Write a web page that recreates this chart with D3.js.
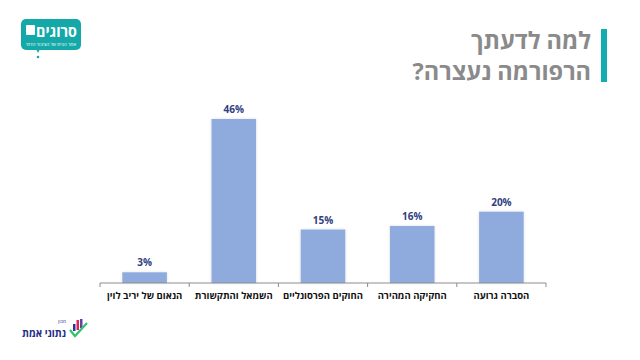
<!DOCTYPE html>
<html><head><meta charset="utf-8">
<script src="https://cdn.jsdelivr.net/npm/d3@7"></script>
<style>body{margin:0;background:#fff}svg{display:block}</style>
</head><body>
<svg id="c" width="640" height="360"></svg>
<script>
const categories = ["הנאום של יריב לוין","השמאל והתקשורת","החוקים הפרסונליים","החקיקה המהירה","הסברה גרועה"];
const values = [3,46,15,16,20];
const titleLines = ["למה לדעתך","הרפורמה נעצרה?"];

const svg = d3.select("#c");
const font = "'Open Sans','Liberation Sans',Arial,sans-serif";
const x = d3.scaleBand().domain(categories).range([100,546]).paddingInner(0.5).paddingOuter(0.25);
const y = d3.scaleLinear().domain([0,46]).range([283,119]);

const defs = svg.append("defs");
const f = defs.append("filter").attr("id","sh").attr("x","-20%").attr("y","-20%").attr("width","140%").attr("height","140%");
f.append("feDropShadow").attr("dx",0).attr("dy",0).attr("stdDeviation",1.5).attr("flood-color","#000").attr("flood-opacity",0.12);

svg.append("g").selectAll("rect").data(values).join("rect")
  .attr("x",(d,i)=>x(categories[i]))
  .attr("y",d=>y(d))
  .attr("width",x.bandwidth())
  .attr("height",d=>y(0)-y(d))
  .attr("fill","#8faadc")
  .attr("filter","url(#sh)");

svg.append("g").selectAll("text").data(values).join("text")
  .attr("x",(d,i)=>x(categories[i])+x.bandwidth()/2)
  .attr("y",d=>y(d)-6)
  .attr("text-anchor","middle")
  .attr("font-family",font).attr("font-weight","bold").attr("font-size",10)
  .attr("fill","#2f4080")
  .text(d=>d+"%");

// axis
const ax = svg.append("g").attr("transform","translate(0,283)");
ax.append("line").attr("x1",100).attr("x2",546).attr("stroke","#8c8c8c").attr("stroke-width",1);
const bounds = categories.map((c,i)=>x(c)-x.bandwidth()*0.5).concat([546]);
ax.selectAll("line.t").data(bounds).join("line").attr("class","t")
  .attr("x1",d=>d).attr("x2",d=>d).attr("y1",0).attr("y2",4).attr("stroke","#8c8c8c");
ax.selectAll("text").data(categories).join("text")
  .attr("x",c=>x(c)+x.bandwidth()/2).attr("y",16)
  .attr("text-anchor","middle").attr("direction","rtl")
  .attr("font-family",font).attr("font-weight","bold").attr("font-size",9.5)
  .attr("fill","#111").text(c=>c);

// title
svg.append("rect").attr("x",601).attr("y",29).attr("width",6).attr("height",53).attr("fill","#12adb0");
svg.selectAll("text.title").data(titleLines).join("text").attr("class","title")
  .attr("x",591).attr("y",(d,i)=>49+i*31)
  .attr("text-anchor","start").attr("direction","rtl")
  .attr("font-family",font).attr("font-weight","bold").attr("font-size",23.5)
  .attr("fill","#8a8a8a").text(d=>d);

// srugim logo
const lg = svg.append("g");
lg.append("rect").attr("x",21).attr("y",19).attr("width",60).attr("height",31).attr("rx",5).attr("fill","#14a9a8");
lg.append("path").attr("d","M36,49 L40,49 L38,53 Z").attr("fill","#14a9a8");
lg.append("circle").attr("cx",38).attr("cy",57).attr("r",1.3).attr("fill","#14a9a8");
lg.append("text").attr("x",77).attr("y",37).attr("direction","rtl").attr("text-anchor","start")
  .attr("font-family",font).attr("font-weight","bold").attr("font-size",15)
  .attr("textLength",41).attr("lengthAdjust","spacingAndGlyphs").attr("fill","#fff").text("סרוגים");
lg.append("rect").attr("x",26).attr("y",25).attr("width",9).attr("height",10).attr("rx",1).attr("fill","#fff");
lg.append("text").attr("x",51).attr("y",45.5).attr("text-anchor","middle").attr("direction","rtl")
  .attr("font-family",font).attr("font-size",4.5).attr("textLength",50).attr("lengthAdjust","spacingAndGlyphs")
  .attr("fill","#fff").text("אתר הבית של הציבור הדתי");

// bottom logo
const b = svg.append("g");
b.append("text").attr("x",66).attr("y",323).attr("direction","rtl").attr("text-anchor","start")
  .attr("font-family",font).attr("font-size",5).attr("fill","#2b3890").text("מכון");
b.append("text").attr("x",66).attr("y",337).attr("direction","rtl").attr("text-anchor","start")
  .attr("font-family",font).attr("font-weight","bold").attr("font-size",11)
  .attr("textLength",44).attr("lengthAdjust","spacingAndGlyphs").attr("fill","#1e2a86").text("נתוני אמת");
b.append("rect").attr("x",73).attr("y",324).attr("width",2.5).attr("height",7).attr("fill","#2b3890");
b.append("rect").attr("x",76.5).attr("y",320).attr("width",2.5).attr("height",10).attr("fill","#e0245e");
b.append("rect").attr("x",80).attr("y",319).attr("width",2.5).attr("height",9).attr("fill","#6a3fa0");
b.append("path").attr("d","M70,330 L75,336 L87,323").attr("fill","none").attr("stroke","#2ec46d").attr("stroke-width",2.2);
</script>
</body></html>
